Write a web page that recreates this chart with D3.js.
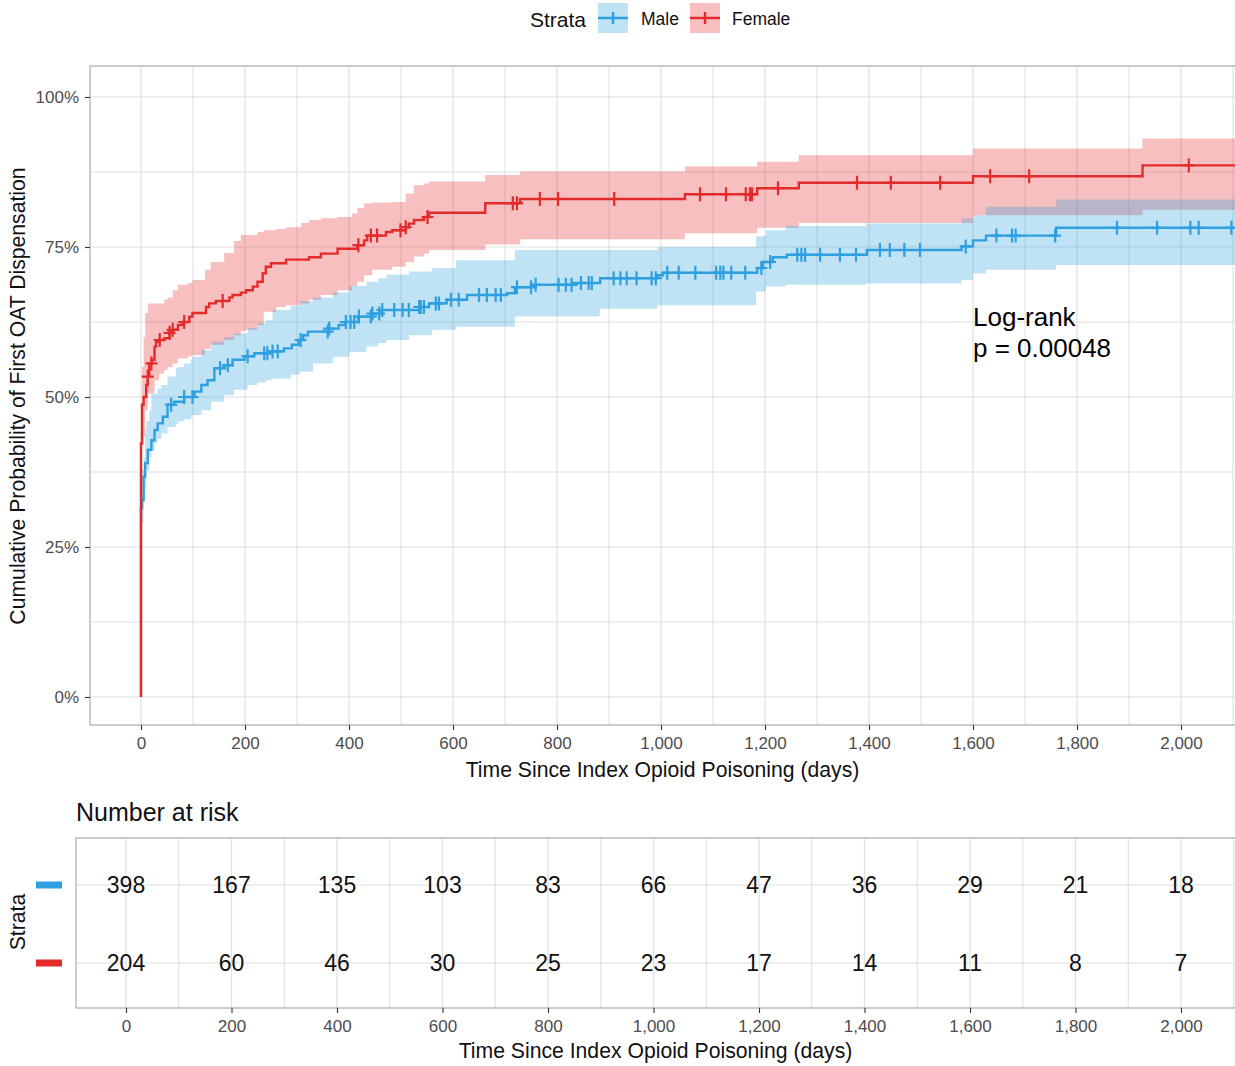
<!DOCTYPE html>
<html><head><meta charset="utf-8">
<script src="https://cdn.jsdelivr.net/npm/d3@7"></script>
<style>
body{margin:0;background:#fff;}
svg{display:block;font-family:"Liberation Sans",Arial,sans-serif;}
</style></head>
<body>
<svg id="chart" width="1235" height="1066"></svg>
<script>
// ---------------- DATA ----------------
const strata = ["Male", "Female"];
const colors = {Male: "#2E9FDF", Female: "#E32B2B"};

// cumulative incidence steps: [day, percent]
const maleCurve = [[0,0],[0,31.5],[2,32.8],[5,36.7],[8,39],[13,41.2],[20,42.8],[26,44.5],[32,45.6],[42,46.7],[51,48.7],[64,49.2],[83,50],[103,50.9],[116,52],[128,52.8],[141,54.8],[160,55.3],[176,56.2],[199,56.8],[218,57.3],[250,57.6],[275,58.1],[290,58.7],[303,59.5],[312,60.3],[321,60.9],[360,61.4],[380,62],[392,62.5],[418,63.4],[443,63.9],[459,64.5],[535,65],[554,65.6],[588,66.2],[627,67],[704,67.3],[719,68.3],[754,68.7],[831,69],[883,69.8],[992,70.3],[1004,70.7],[1185,71.5],[1196,72.5],[1215,73.3],[1242,73.7],[1396,74.5],[1578,75.1],[1600,76.1],[1625,76.9],[1760,78.2],[2110,78.2]];
const femaleCurve = [[0,0],[0,42.3],[2,48.7],[5,50],[10,52],[13,53.4],[16,55.6],[21,56.2],[26,58.4],[29,59.2],[35,59.5],[45,59.8],[55,60.7],[61,61.2],[71,62],[80,62.5],[93,63.4],[99,64],[125,65],[131,65.6],[144,66],[170,66.6],[176,67],[192,67.4],[202,67.8],[215,68.4],[224,69.2],[234,70.6],[240,71.7],[250,72.3],[279,72.9],[323,73.3],[346,73.9],[378,74.7],[416,75.3],[429,76.1],[435,76.9],[471,77.5],[483,77.8],[509,78.3],[515,78.9],[525,79.5],[544,80],[554,80.7],[662,82.3],[729,83],[1046,83.8],[1185,84.8],[1265,85.7],[1600,86.8],[1926,88.6],[2110,88.6]];

// confidence bands: [day, lower, upper]
const maleBand = [[0,27,36],[2,29,38],[5,33,40],[8,35,44.5],[10,37.8,46],[16,40,47.8],[20,41,50.6],[26,42.3,50.6],[32,43,51.4],[39,43.9,52],[51,45,53.4],[67,45.5,54.8],[71,45.9,55],[83,46.3,55.6],[96,46.7,56.2],[99,47,56.7],[116,47.8,57.8],[135,49.2,59.2],[160,50.3,60],[179,51.2,60.6],[205,52,61.5],[224,52.4,62.3],[240,52.8,62.8],[253,53.1,64.5],[288,53.7,65.2],[306,54.2,66],[331,55.6,66.6],[369,56.7,67.4],[400,57.5,68.5],[434,58.4,69.2],[456,59,69.8],[472,59.5,70.4],[516,60.3,70.9],[560,61.2,71.5],[606,61.7,72.8],[719,63.4,74.5],[882,64.7,74.5],[993,65.3,75],[1183,67.6,76.8],[1202,68.4,77.8],[1240,68.7,78.5],[1394,68.9,78.9],[1578,69.5,79.8],[1600,70.6,80.3],[1625,71.2,81.7],[1760,72,82.9],[2110,72,82.9]];
const femaleBand = [[0,36,48],[2,42,55],[5,43.4,60],[8,47.8,64],[13,50.6,65.6],[26,52.8,65.6],[35,53.9,65.6],[45,54.5,66.2],[51,55,66.6],[61,55.6,67.8],[71,56.4,68.7],[90,56.8,69],[99,57,69.5],[123,58,71.2],[134,58.7,72.5],[160,59.5,74],[179,60.3,76],[192,61,77],[202,61.2,77],[224,62,77.5],[236,64.2,77.8],[260,65,78],[279,65.3,78.3],[308,65.6,79],[323,66.2,79.5],[346,67,79.8],[378,67.8,80],[406,68.5,80.6],[416,69.2,81.5],[429,70.3,82.3],[445,71.2,82.4],[483,71.7,82.5],[509,72.5,83.9],[525,73.4,85.3],[544,73.9,85.6],[554,74.5,85.9],[662,75.4,87],[729,76.3,87.6],[1046,77.3,88.4],[1185,78.2,89.2],[1265,79,90.3],[1600,80.3,91.4],[1926,81.2,93.1],[2110,81.2,93.1]];

// censoring times (days)
const maleCensor = [58,83,99,152,167,205,237,243,253,263,307,359,362,394,403,410,419,442,445,458,464,487,503,515,535,538,544,567,573,596,611,650,665,682,692,723,750,759,803,817,828,846,861,867,909,922,934,953,982,990,1012,1034,1066,1106,1114,1120,1135,1162,1193,1210,1262,1270,1277,1306,1344,1375,1421,1440,1468,1498,1586,1645,1675,1682,1758,1877,1954,2018,2034,2097];
const femaleCensor = [13,20,36,55,61,83,157,418,442,454,499,509,551,715,723,767,802,910,1075,1125,1163,1171,1175,1225,1377,1442,1537,1633,1708,2015];

// axis ticks
const xTicks = [0,200,400,600,800,1000,1200,1400,1600,1800,2000];
const xMinor = [-100,100,300,500,700,900,1100,1300,1500,1700,1900,2100];
const yTicks = [0,25,50,75,100];
const yMinor = [12.5,37.5,62.5,87.5];

// number at risk
const riskTimes = [0,200,400,600,800,1000,1200,1400,1600,1800,2000];
const maleRisk = [398,167,135,103,83,66,47,36,29,21,18];
const femaleRisk = [204,60,46,30,25,23,17,14,11,8,7];

const pText = ["Log-rank", "p = 0.00048"];

// ---------------- DRAW ----------------
const svg = d3.select("#chart");
const fmt = d3.format(",");
const P = {l: 90, r: 1236, t: 66, b: 725};
const x = d3.scaleLinear().domain([0, 2000]).range([141, 1181]);
const y = d3.scaleLinear().domain([0, 100]).range([697, 97]);
const gridCol = "#e0e0e0", borderCol = "#ababab", tickTxt = "#4d4d4d";
const titleSize = 21.2, tickSize = 17;

svg.append("defs").append("clipPath").attr("id","clipMain")
  .append("rect").attr("x",P.l).attr("y",P.t).attr("width",P.r-P.l).attr("height",P.b-P.t);

// grid
const g = svg.append("g");
g.selectAll(".xmin").data(xMinor).join("line")
  .attr("x1",d=>x(d)).attr("x2",d=>x(d)).attr("y1",P.t).attr("y2",P.b)
  .attr("stroke",gridCol).attr("stroke-width",1.1).attr("clip-path","url(#clipMain)");
g.selectAll(".xmaj").data(xTicks).join("line")
  .attr("x1",d=>x(d)).attr("x2",d=>x(d)).attr("y1",P.t).attr("y2",P.b)
  .attr("stroke",gridCol).attr("stroke-width",1.2);
g.selectAll(".ymin").data(yMinor).join("line")
  .attr("x1",P.l).attr("x2",P.r).attr("y1",d=>y(d)).attr("y2",d=>y(d))
  .attr("stroke",gridCol).attr("stroke-width",1.1);
g.selectAll(".ymaj").data(yTicks).join("line")
  .attr("x1",P.l).attr("x2",P.r).attr("y1",d=>y(d)).attr("y2",d=>y(d))
  .attr("stroke",gridCol).attr("stroke-width",1.2);

// bands
const plot = svg.append("g").attr("clip-path","url(#clipMain)");
const area = d3.area().curve(d3.curveStepAfter)
  .x(d=>x(d[0])).y0(d=>y(d[1])).y1(d=>y(d[2]));
[["Female",femaleBand],["Male",maleBand]].forEach(([k,b])=>{
  plot.append("path").datum(b).attr("d",area)
    .attr("fill",colors[k]).attr("fill-opacity",0.3);
});

// curves
const line = d3.line().curve(d3.curveStepAfter).x(d=>x(d[0])).y(d=>y(d[1]));
const series = [["Male",maleCurve,maleCensor],["Female",femaleCurve,femaleCensor]];
const bis = d3.bisector(d=>d[0]).right;
series.forEach(([k,c,cens])=>{
  plot.append("path").datum(c).attr("d",line)
    .attr("fill","none").attr("stroke",colors[k]).attr("stroke-width",2.4);
  const pts = cens.map(t=>[t, c[Math.max(0,bis(c,t)-1)][1]]);
  const m = plot.append("g");
  m.selectAll("path").data(pts).join("path")
    .attr("d",d=>{const cx=x(d[0]), cy=y(d[1]);
      return `M${cx-6},${cy}H${cx+6}M${cx},${cy-7}V${cy+7}`;})
    .attr("stroke",colors[k]).attr("stroke-width",2.2);
});

// border
svg.append("rect").attr("x",P.l).attr("y",P.t).attr("width",P.r-P.l).attr("height",P.b-P.t)
  .attr("fill","none").attr("stroke",borderCol).attr("stroke-width",1.2);

// axes
const ax = svg.append("g").attr("transform",`translate(0,${P.b})`)
  .call(d3.axisBottom(x).tickValues(xTicks).tickFormat(fmt).tickSize(5).tickPadding(7));
ax.select(".domain").remove();
ax.selectAll("line").attr("stroke","#333").attr("stroke-width",1.1);
ax.selectAll("text").attr("fill",tickTxt).attr("font-size",tickSize).attr("font-family","Liberation Sans, Arial");
const ay = svg.append("g").attr("transform",`translate(${P.l},0)`)
  .call(d3.axisLeft(y).tickValues(yTicks).tickFormat(d=>d+"%").tickSize(5).tickPadding(6));
ay.select(".domain").remove();
ay.selectAll("line").attr("stroke","#333").attr("stroke-width",1.1);
ay.selectAll("text").attr("fill",tickTxt).attr("font-size",tickSize).attr("font-family","Liberation Sans, Arial");

svg.append("text").attr("x",(P.l+1235)/2).attr("y",777).attr("text-anchor","middle")
  .attr("font-size",titleSize).attr("fill","#111").text("Time Since Index Opioid Poisoning (days)");
svg.append("text").attr("transform",`translate(25,396) rotate(-90)`).attr("text-anchor","middle")
  .attr("font-size",titleSize).attr("fill","#111").text("Cumulative Probability of First OAT Dispensation");

// p-value
svg.append("text").attr("x",x(1600)).attr("y",326).attr("font-size",26).attr("fill","#000").text(pText[0]);
svg.append("text").attr("x",x(1600)).attr("y",357).attr("font-size",26).attr("fill","#000").text(pText[1]);

// legend
const lg = svg.append("g");
lg.append("text").attr("x",530).attr("y",27).attr("font-size",21).attr("fill","#111").text("Strata");
const keyX = {Male:598, Female:690}, labX = {Male:641, Female:732};
strata.forEach(k=>{
  const kx = keyX[k];
  lg.append("rect").attr("x",kx).attr("y",3).attr("width",30).attr("height",30)
    .attr("fill",colors[k]).attr("fill-opacity",0.3);
  lg.append("path").attr("d",`M${kx},18H${kx+30}M${kx+15},12V24`)
    .attr("stroke",colors[k]).attr("stroke-width",2.4);
  lg.append("text").attr("x",labX[k]).attr("y",25).attr("font-size",17.5).attr("fill","#111").text(k);
});

// ---------------- RISK TABLE ----------------
const T = {l:76, r:1236, t:838, b:1008};
const xt = d3.scaleLinear().domain([0,2000]).range([126,1181]);
const yt = d3.scalePoint().domain(strata).range([885,963]);
const rt = svg.append("g");
rt.append("text").attr("x",76).attr("y",821).attr("font-size",25).attr("fill","#111").text("Number at risk");
rt.selectAll(".tmin").data(xMinor).join("line")
  .attr("x1",d=>xt(d)).attr("x2",d=>xt(d)).attr("y1",T.t).attr("y2",T.b)
  .attr("stroke",gridCol).attr("stroke-width",1.1)
  .attr("display",d=>xt(d)<T.l||xt(d)>T.r?"none":null);
rt.selectAll(".tmaj").data(xTicks).join("line")
  .attr("x1",d=>xt(d)).attr("x2",d=>xt(d)).attr("y1",T.t).attr("y2",T.b)
  .attr("stroke",gridCol).attr("stroke-width",1.2);
rt.selectAll(".trow").data(strata).join("line")
  .attr("x1",T.l).attr("x2",T.r).attr("y1",d=>yt(d)).attr("y2",d=>yt(d))
  .attr("stroke",gridCol).attr("stroke-width",1.2);
rt.append("rect").attr("x",T.l).attr("y",T.t).attr("width",T.r-T.l).attr("height",T.b-T.t)
  .attr("fill","none").attr("stroke",borderCol).attr("stroke-width",1.2);
const riskRows = {Male: maleRisk, Female: femaleRisk};
strata.forEach(k=>{
  rt.append("g").selectAll("text").data(riskTimes.map((t,i)=>[t,riskRows[k][i]])).join("text")
    .attr("x",d=>xt(d[0])).attr("y",yt(k)+8).attr("text-anchor","middle")
    .attr("font-size",23).attr("fill","#111").text(d=>d[1]);
  rt.append("rect").attr("x",36).attr("y",yt(k)-3.5).attr("width",26).attr("height",7).attr("fill",colors[k]);
});
const axt = svg.append("g").attr("transform",`translate(0,${T.b})`)
  .call(d3.axisBottom(xt).tickValues(xTicks).tickFormat(fmt).tickSize(5).tickPadding(7));
axt.select(".domain").remove();
axt.selectAll("line").attr("stroke","#333").attr("stroke-width",1.1);
axt.selectAll("text").attr("fill",tickTxt).attr("font-size",tickSize).attr("font-family","Liberation Sans, Arial");
svg.append("text").attr("x",(T.l+1235)/2).attr("y",1058).attr("text-anchor","middle")
  .attr("font-size",titleSize).attr("fill","#111").text("Time Since Index Opioid Poisoning (days)");
svg.append("text").attr("transform",`translate(25,922) rotate(-90)`).attr("text-anchor","middle")
  .attr("font-size",titleSize).attr("fill","#111").text("Strata");
</script>
</body></html>
